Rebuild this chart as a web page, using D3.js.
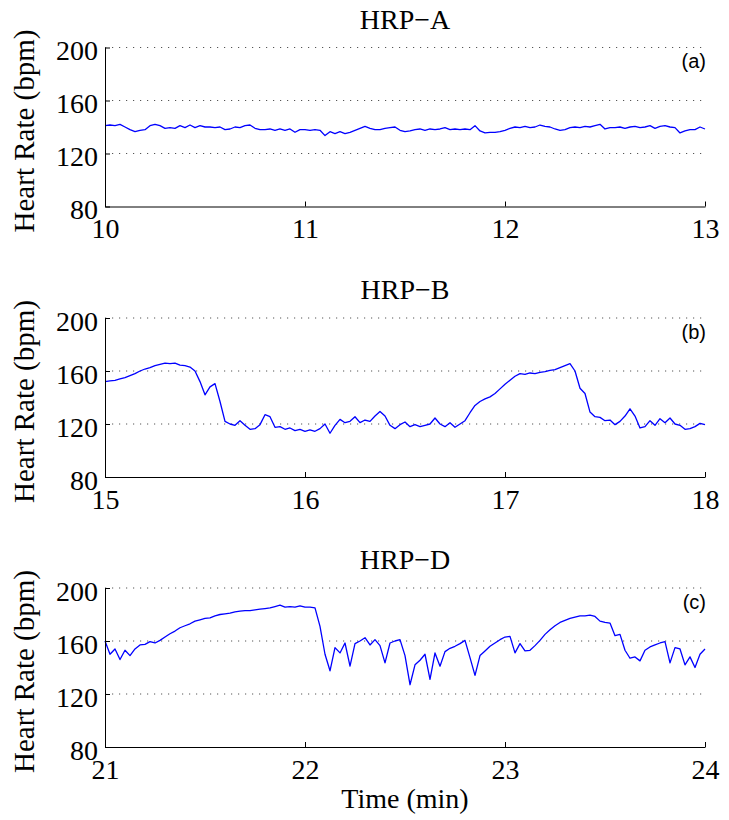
<!DOCTYPE html>
<html>
<head>
<meta charset="utf-8">
<script src="https://cdn.jsdelivr.net/npm/d3@7"></script>
<style>
  body { margin: 0; background: #fff; }
  .axis text { font-family: "Liberation Serif", "Times New Roman", serif; font-size: 28px; fill: #000; }
  .axis path, .axis line { stroke: #000; stroke-width: 1; }
  .title, .ylabel, .xlabel { font-family: "Liberation Serif", "Times New Roman", serif; fill: #000; }
  .tag { font-family: "Liberation Sans", Arial, sans-serif; font-size: 20px; fill: #000; }
</style>
</head>
<body>
<div id="chart"></div>
<script>
////////////////////////////////////////////////////
// data (heart rate in bpm, one sample every 0.025 min)

var titles = ["HRP\u2212A", "HRP\u2212B", "HRP\u2212D"];
var tags = ["(a)", "(b)", "(c)"];
var sampleStep = 0.025;

var xTicksA = [10, 11, 12, 13];
var xTicksB = [15, 16, 17, 18];
var xTicksD = [21, 22, 23, 24];
var yTicks = [80, 120, 160, 200];
var gridTicks = [120, 160, 200];

var hrA = [
  141, 141.5, 141, 142, 140, 138, 136.5, 137.5, 138, 141, 142, 141, 139, 139.5, 139, 141, 139.5, 141.5, 139.5, 141,
  140, 140, 139.5, 140, 138, 138.5, 140, 139.5, 141, 141.5, 139, 138, 138, 138.5, 137.5, 138.5, 137.5, 138.5, 136, 138,
  138, 137.5, 138, 137.5, 133.5, 136.5, 135, 136.5, 135, 136, 137.5, 139, 140.5, 139, 138, 138, 139, 139.5, 140, 137.5,
  136.5, 137, 138, 138.5, 137.5, 138.5, 138, 138.5, 139.5, 138, 138.5, 138, 138.5, 138, 141, 137, 135.5, 136, 136, 136.5,
  137.5, 139, 140, 139.5, 140.5, 139.5, 140, 141.5, 140.5, 140, 138.5, 137.5, 138, 139.5, 140, 139.5, 140.5, 140, 141, 142,
  138.5, 139.5, 139.5, 140, 139, 140, 140.5, 139.5, 140, 141, 139, 140.5, 141, 140, 139.5, 135.5, 137, 138, 138, 140,
  138.5
];

var hrB = [
  152, 152.5, 153, 154, 155, 156.5, 158, 160, 161.5, 162.5, 164, 165, 166, 165.5, 166, 164.5, 164, 163, 160, 152,
  142, 148, 150.5, 137, 122, 120, 119, 122.5, 119, 116, 116.5, 119.5, 127, 125.5, 117.5, 118, 116, 117, 115, 116,
  114.5, 115.5, 114.5, 116.5, 120, 113, 119, 123.5, 121, 122, 125.5, 121, 123, 122, 126, 129.5, 126, 119, 116.5, 119.5,
  121.5, 118, 119.5, 118, 119, 120, 124.5, 120, 118, 121, 117.5, 120, 122.5, 128.5, 134, 137, 139, 140.5, 143, 146.5,
  150, 153, 156, 158, 157.5, 158.5, 158, 159, 159.5, 160.5, 161, 162.5, 164, 165.5, 160, 147, 143, 129, 125.5, 125,
  122.5, 123, 119.5, 122, 126, 131.5, 126, 117, 118, 122.5, 119, 124, 121, 124.5, 120, 119, 116, 116.5, 118, 120.5,
  119.5
];

var hrD = [
  160, 150, 154, 146, 153, 149, 154, 157, 157.5, 159.5, 158.5, 160.5, 163, 165.5, 167.5, 170, 171.5, 173, 175, 176,
  177, 177.5, 179, 180, 180.5, 181, 182, 182.5, 183, 183, 183.5, 184, 184.5, 185, 186, 187, 185.5, 186, 185.5, 186.5,
  185.5, 185.5, 185, 171, 150, 137.5, 155, 151, 158.5, 141, 158, 160, 162.5, 157, 161, 156.5, 143.5, 158.5, 160, 161,
  149, 127, 142, 145.5, 150, 131, 151, 141, 152, 154.5, 156, 158, 160.5, 147.5, 134, 149, 152.5, 156, 158.5, 161,
  163, 163.5, 151, 158, 152.5, 153, 156.5, 160.5, 165, 168.5, 171.5, 174, 175.5, 177, 178, 179, 179, 179.5, 178.5, 175,
  174, 173.5, 164, 165, 153, 147, 148, 145, 153, 155.5, 157, 158.5, 159.5, 143.5, 155, 154, 142, 148, 140, 150,
  154
];

////////////////////////////////////////////////////
// layout

var plotLeft = 105,
    plotWidth = 600,
    plotHeight = 159;
var panelTop = [47.5, 318, 588];

var svg = d3.select("#chart").append("svg")
    .attr("width", 729)
    .attr("height", 820);

function drawPanel(k, values, xTicks) {
    var top = panelTop[k];
    var g = svg.append("g")
        .attr("transform", "translate(" + plotLeft + "," + top + ")");

    var xScale = d3.scaleLinear()
        .domain([xTicks[0], xTicks[xTicks.length - 1]])
        .range([0, plotWidth]);
    var yScale = d3.scaleLinear()
        .domain([80, 200])
        .range([plotHeight, 0]);

    // dotted grid
    g.append("g")
        .selectAll("line")
        .data(gridTicks)
        .enter()
        .append("line")
        .attr("x1", 0)
        .attr("x2", plotWidth)
        .attr("y1", function(d) { return yScale(d); })
        .attr("y2", function(d) { return yScale(d); })
        .attr("stroke", "#555")
        .attr("stroke-width", 1)
        .attr("stroke-dasharray", "1.2,5.8");

    // heart rate trace
    var line = d3.line()
        .x(function(d, i) { return xScale(xTicks[0] + i * sampleStep); })
        .y(function(d) { return yScale(d); });

    g.append("path")
        .datum(values)
        .attr("fill", "none")
        .attr("stroke", "#0000ff")
        .attr("stroke-width", 1.3)
        .attr("stroke-linejoin", "round")
        .attr("d", line);

    // axes, ticks inward
    var yAxis = d3.axisLeft(yScale)
        .tickValues(yTicks)
        .tickSizeInner(-5)
        .tickSizeOuter(0)
        .tickPadding(7);
    var gy = g.append("g").attr("class", "axis").call(yAxis);
    gy.selectAll("text").attr("dy", "0.43em");

    var xAxis = d3.axisBottom(xScale)
        .tickValues(xTicks)
        .tickSizeInner(-5)
        .tickSizeOuter(0)
        .tickPadding(12)
        .tickFormat(d3.format("d"));
    g.append("g")
        .attr("class", "axis")
        .attr("transform", "translate(0," + plotHeight + ")")
        .call(xAxis);

    // title, tag, y label
    svg.append("text")
        .attr("class", "title")
        .attr("x", plotLeft + plotWidth / 2)
        .attr("y", top - 19)
        .attr("text-anchor", "middle")
        .style("font-size", "28px")
        .text(titles[k]);

    svg.append("text")
        .attr("class", "tag")
        .attr("x", plotLeft + plotWidth + 1)
        .attr("y", top + 20.5)
        .attr("text-anchor", "end")
        .text(tags[k]);

    svg.append("text")
        .attr("class", "ylabel")
        .attr("transform", "translate(34," + (top + plotHeight / 2 + 4) + ") rotate(-90)")
        .attr("text-anchor", "middle")
        .style("font-size", "29px")
        .text("Heart Rate (bpm)");
}

drawPanel(0, hrA, xTicksA);
drawPanel(1, hrB, xTicksB);
drawPanel(2, hrD, xTicksD);

svg.append("text")
    .attr("class", "xlabel")
    .attr("x", plotLeft + plotWidth / 2)
    .attr("y", 808)
    .attr("text-anchor", "middle")
    .style("font-size", "28px")
    .text("Time (min)");
</script>
</body>
</html>
